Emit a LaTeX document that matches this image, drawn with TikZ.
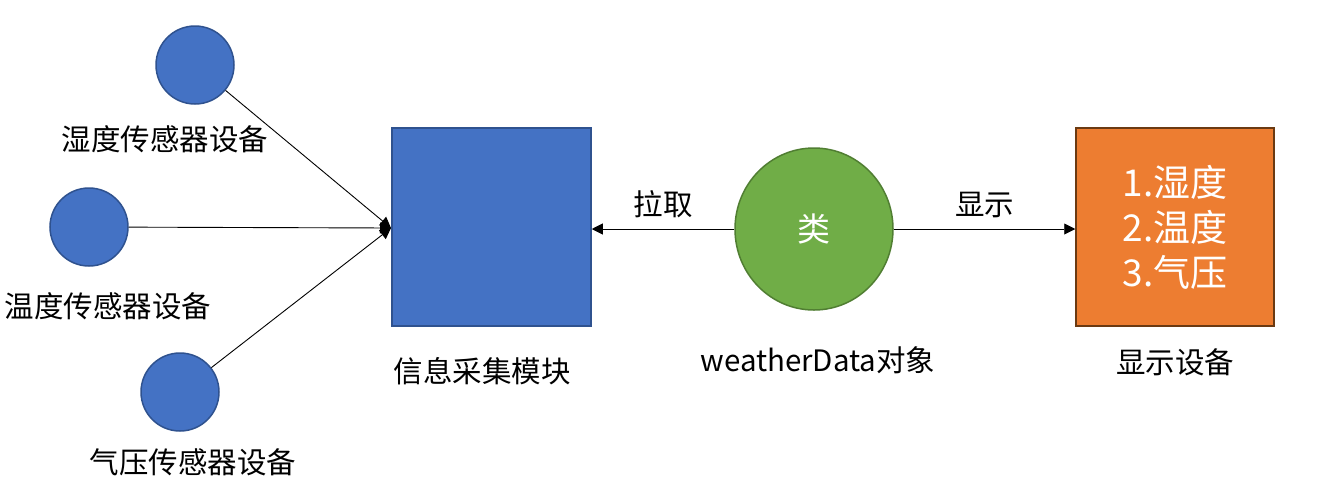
\documentclass[tikz,border=0pt]{standalone}
\usepackage{fontspec}
\setmainfont{Noto Sans CJK SC}
\usetikzlibrary{arrows.meta,shapes.geometric}
\definecolor{bluef}{HTML}{4472C4}
\definecolor{blued}{HTML}{2F528F}
\definecolor{greenf}{HTML}{70AD47}
\definecolor{greend}{HTML}{507E32}
\definecolor{orangef}{HTML}{ED7D31}
\definecolor{oranged}{HTML}{6B3A12}
\tikzset{
  sensor/.style={circle,draw=blued,fill=bluef,line width=1.5pt,minimum size=78pt,inner sep=0pt},
  boxb/.style={rectangle,draw=blued,fill=bluef,line width=1.5pt,minimum width=199pt,minimum height=198pt,inner sep=0pt},
  boxo/.style={rectangle,draw=oranged,fill=orangef,line width=1.5pt,minimum width=198pt,minimum height=198pt,inner sep=0pt,text=white,align=center,font=\fontsize{37}{45}\selectfont},
  cls/.style={ellipse,draw=greend,fill=greenf,line width=1.5pt,minimum width=158pt,minimum height=162pt,inner sep=0pt,text=white,font=\fontsize{33}{38}\selectfont},
  lbl/.style={inner sep=0pt,font=\fontsize{29.5}{34}\selectfont},
  conn/.style={line width=0.9pt,-{Triangle[length=11pt,width=11pt]}},
}
\begin{document}
\begin{tikzpicture}[x=1pt,y=-1pt]
\useasboundingbox (0,0) rectangle (1328,491);
\node[sensor] (hum) at (195,65) {};
\node[sensor] (tmp) at (89,227) {};
\node[sensor] (prs) at (180,392) {};
\node[lbl] (humL) at (165,139) {湿度传感器设备};
\node[lbl] (tmpL) at (108,306) {温度传感器设备};
\node[lbl] (prsL) at (193,462) {气压传感器设备};
\node[boxb] (info) at (491.5,227) {};
\node[lbl] (infoL) at (482,371) {信息采集模块};
\node[cls] (wd) at (814,229) {类};
\node[lbl] (wdL) at (818,360) {weatherData对象};
\node[boxo] (disp) at (1175,227) {1.湿度\\2.温度\\3.气压};
\node[lbl] (dispL) at (1175,362) {显示设备};
\coordinate (tip) at (391,228);
\draw[conn] (hum) -- (tip);
\draw[conn] (tmp) -- (tip);
\draw[conn] (prs) -- (tip);
\draw[conn] (wd.west) -- (info.east |- wd.west) node[lbl,midway,above=11pt] (pull) {拉取};
\draw[conn] (wd.east) -- (disp.west |- wd.east) node[lbl,midway,above=11pt] (show) {显示};
\end{tikzpicture}
\end{document}
